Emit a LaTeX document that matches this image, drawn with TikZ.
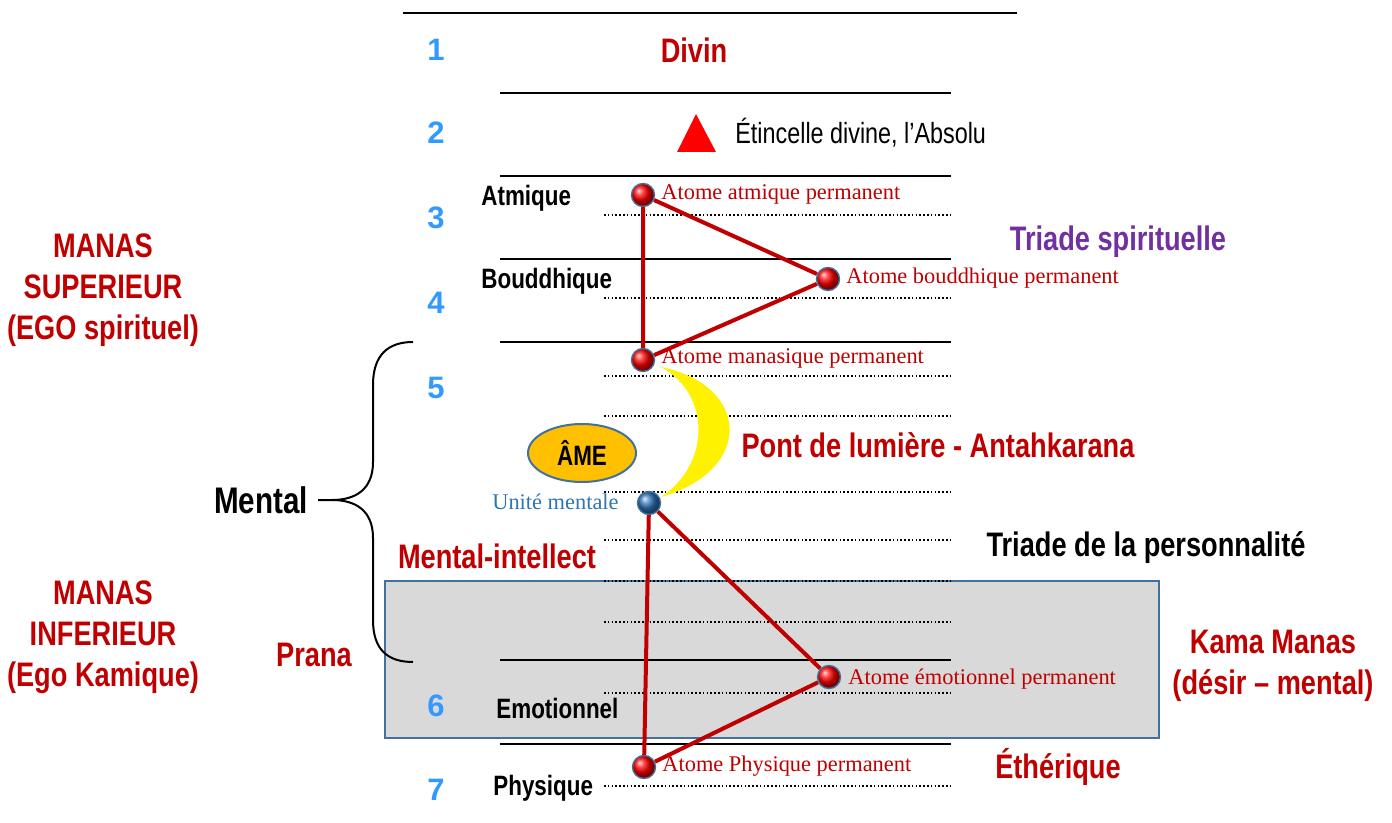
\documentclass[tikz,border=0pt]{standalone}
\usepackage{fontspec}
\setmainfont{Liberation Serif}
\newfontfamily\narrowfont[FakeStretch=0.8]{Liberation Sans}
\newfontfamily\numfont{Liberation Sans}
\usetikzlibrary{shapes.geometric}
\definecolor{darkred}{HTML}{C00000}
\definecolor{numblue}{HTML}{3399FF}
\definecolor{triadpurple}{HTML}{7030A0}
\definecolor{boxgray}{HTML}{D9D9D9}
\definecolor{boxblue}{HTML}{41719C}
\definecolor{amegold}{HTML}{FFC000}
\definecolor{unitblue}{HTML}{2E75B6}
\tikzset{
  plane/.style={line width=1pt},
  subplane/.style={line width=0.8pt, dash pattern=on 0.8pt off 1.1pt},
  atom/.style={circle, minimum size=11.5pt, inner sep=0pt, shading=ball, ball color=red, draw=boxblue, line width=0.7pt},
  bond/.style={darkred, line width=2pt},
  atomlbl/.style={text=darkred, font=\fontsize{11.2}{13}\selectfont, anchor=west, inner sep=0pt},
  levelnum/.style={text=numblue, font=\numfont\bfseries\fontsize{15.5}{18}\selectfont},
  bigred/.style={text=darkred, font=\narrowfont\bfseries\fontsize{17}{20.5}\selectfont, align=center},
  planelbl/.style={font=\narrowfont\bfseries\fontsize{14}{16}\selectfont, anchor=west, inner sep=0pt},
}
\begin{document}
\begin{tikzpicture}[x=0.5pt, y=-0.5pt]
\useasboundingbox (0,0) rectangle (1392,823);
% Kama Manas box
\draw[fill=boxgray, draw=boxblue, line width=0.8pt] (385,581) rectangle (1159,738);
% planes
\draw[plane] (403,13) -- (1017,13);
\foreach \y in {93,176,259,342,660,744}
  \draw[plane] (500,\y) -- (951,\y);
\foreach \y in {215,298,376,416,492,540,581,622,693,786}
  \draw[subplane] (604,\y) -- (950,\y);
% level numbers
\foreach \n/\y in {1/50,2/133,3/218,4/303,5/388,6/706,7/790}
  \node[levelnum] (num\n) at (436,\y) {\n};
% atoms
\node[atom] (atm) at (643,195) {};
\node[atom] (boud) at (828,279) {};
\node[atom] (manas) at (643,360) {};
\node[atom, ball color=unitblue] (unit) at (649,503) {};
\node[atom] (emo) at (829,677) {};
\node[atom] (phys) at (644,767) {};
% triads
\draw[bond] (atm) -- (boud) -- (manas) -- (atm);
\draw[bond] (unit) -- (emo) -- (phys) -- (unit);
% antahkarana
\fill[yellow] (661,367) .. controls (750,385) and (755,470) .. (661,497)
  .. controls (710,465) and (712,395) .. (661,367);
\node[ellipse, minimum width=54pt, minimum height=29pt, fill=amegold, draw=boxblue, line width=1pt,
  font=\narrowfont\bfseries\fontsize{14}{16}\selectfont] (ame) at (582,453) {ÂME};
% atom labels
\node[atomlbl] (atmlbl) at (661,194) {Atome atmique permanent};
\node[atomlbl] (boudlbl) at (846,278) {Atome bouddhique permanent};
\node[atomlbl] (manaslbl) at (661,358) {Atome manasique permanent};
\node[atomlbl, text=unitblue, anchor=east] (unitlbl) at (619,502) {Unité mentale};
\node[atomlbl] (emolbl) at (848,679) {Atome émotionnel permanent};
\node[atomlbl] (physlbl) at (662,766) {Atome Physique permanent};
% plane names
\node[planelbl] (atmique) at (481,198) {Atmique};
\node[planelbl] (bouddhique) at (481,281) {Bouddhique};
\node[planelbl] (emotionnel) at (496,708) {Emotionnel};
\node[planelbl] (physique) at (493,788) {Physique};
% top
\node[bigred] (divin) at (694,50) {Divin};
\fill[red] (677,152) -- (696,114) -- (716,152) -- cycle;
\node[anchor=west, inner sep=0pt, font=\narrowfont\fontsize{14.6}{18}\selectfont] (etincelle) at (735,133) {Étincelle divine, l’Absolu};
\node[bigred, text=triadpurple] (triadesp) at (1118,242) {Triade spirituelle};
\node[bigred] (pont) at (938,445) {Pont de lumière - Antahkarana};
\node[bigred, text=black] (triadeper) at (1146,548) {Triade de la personnalité};
\node[bigred] (intellect) at (497,556) {Mental-intellect};
\node[bigred] (prana) at (314,655) {Prana};
\node[bigred] (kama) at (1273,666) {Kama Manas\\(désir – mental)};
\node[bigred] (etherique) at (1058,767) {Éthérique};
% left side
\node[bigred] (superieur) at (103,290) {MANAS\\SUPERIEUR\\(EGO spirituel)};
\node[bigred] (inferieur) at (103,637) {MANAS\\INFERIEUR\\(Ego Kamique)};
\node[bigred, text=black, font=\narrowfont\bfseries\fontsize{18.5}{20}\selectfont] (mental) at (261,500) {Mental};
\draw[line width=1pt] (318,500) -- (332,500)
  .. controls (355,500) and (373,490) .. (373,462) -- (373,385)
  .. controls (373,355) and (388,342) .. (413,342);
\draw[line width=1pt] (332,500)
  .. controls (355,500) and (373,510) .. (373,538) -- (373,620)
  .. controls (373,650) and (388,662) .. (413,662);
\end{tikzpicture}
\end{document}
